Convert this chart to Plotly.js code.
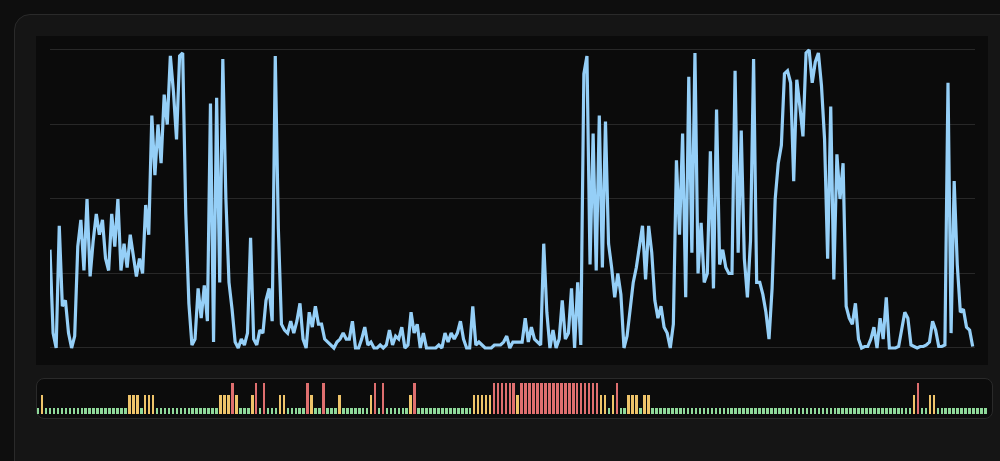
<!DOCTYPE html>
<html><head><meta charset="utf-8">
<script src="https://cdn.plot.ly/plotly-3.0.1.min.js"></script>
<style>
html,body{margin:0;padding:0;width:1000px;height:461px;overflow:hidden;background:#0e0e0e;}
.card{position:absolute;left:14px;top:14px;width:1010px;height:480px;background:#151515;border:1px solid #2a2a2a;border-radius:16px;box-sizing:border-box;}
.panel{position:absolute;left:36px;top:36px;width:952px;height:329px;background:#0b0b0b;}
.strip{position:absolute;left:36px;top:378px;width:957px;height:41px;background:#0c0c0c;border:1px solid #2a2a2a;border-radius:8px;box-sizing:border-box;}
#chart{position:absolute;left:0;top:0;width:1000px;height:461px;}
</style></head>
<body>
<div class="card"></div>
<div class="panel"></div>
<div class="strip"></div>
<div id="chart"></div>
<script>
// usage series (percent), one value per sample
const usage = [
  33,5,0,41,14,16,5,0,4,34,
  43,26,50,24,36,45,38,43,30,26,
  45,34,50,26,35,27,38,31,24,30,
  25,48,38,78,58,75,62,85,75,98,
  86,70,98,99,45,15,1,3,20,10,
  21,9,82,2,84,22,97,50,22,13,
  2,0,3,1,5,37,3,1,6,5,
  16,20,9,98,40,8,6,5,9,5,
  9,15,3,0,12,7,14,8,8,3,
  2,1,0,2,3,5,3,3,9,0,
  0,3,7,1,2,0,0,1,0,1,
  6,1,4,3,7,0,1,12,5,8,
  0,5,0,0,0,0,1,0,5,2,
  5,3,5,9,3,0,0,14,1,2,
  1,0,0,0,1,1,1,2,4,0,
  2,2,2,2,10,2,7,3,2,1,
  35,12,0,6,0,3,16,3,5,20,
  0,22,1,92,98,28,72,26,78,27,
  76,35,27,17,25,18,0,4,13,22,
  27,34,41,23,41,32,16,10,14,7,
  5,0,8,63,38,72,17,91,32,99,
  25,42,22,25,66,20,80,28,33,27,
  25,25,93,32,73,30,17,36,97,22,
  22,18,12,3,20,50,62,68,92,93,
  89,56,90,81,71,99,100,89,96,99,
  88,70,30,81,23,65,50,62,14,10,
  8,15,3,0,0.5,0.5,3,7,0,10,
  3,17,0,0,0,0.5,7,12,10,1,
  0.5,0,0.5,0.5,1,2,9,6,0.5,0.5,
  1,89,5,56,28,12,13,7,6,0.5
];

// status per interval: 0 = ok, 1 = warning, 2 = critical
const status = [
  0,1,0,0,0,0,0,0,0,0, 0,0,0,0,0,0,0,0,0,0,
  0,0,0,1,1,1,0,1,1,1, 0,0,0,0,0,0,0,0,0,0,
  0,0,0,0,0,0,1,1,1,2, 1,0,0,0,1,2,0,2,0,0,
  0,1,1,0,0,0,0,0,2,1, 0,0,2,0,0,0,1,0,0,0,
  0,0,0,0,1,2,0,2,0,0, 0,0,0,0,1,2,0,0,0,0,
  0,0,0,0,0,0,0,0,0,0, 1,1,1,1,1,2,2,2,2,2,
  2,1,2,2,2,2,2,2,2,2, 2,2,2,2,2,2,2,2,2,2,
  2,2,1,1,0,1,2,0,0,1, 1,1,0,1,1,0,0,0,0,0,
  0,0,0,0,0,0,0,0,0,0, 0,0,0,0,0,0,0,0,0,0,
  0,0,0,0,0,0,0,0,0,0, 0,0,0,0,0,0,0,0,0,0,
  0,0,0,0,0,0,0,0,0,0, 0,0,0,0,0,0,0,0,0,0,
  0,1,2,0,0,1,1,0,0,0, 0,0,0,0,0,0,0,0,0,0
];
const levelHeight = [1, 3, 5];
const levelColor = ['#8fd99a', '#efc46a', '#df6f6f'];
const gridValues = [0, 25, 50, 75, 100];

const lineTrace = {
  type: 'scatter', mode: 'lines',
  y: usage,
  line: {color: '#95cff7', width: 3.2},
  hoverinfo: 'skip',
  xaxis: 'x', yaxis: 'y'
};
const barTrace = {
  type: 'bar',
  y: status.map(s => levelHeight[s]),
  marker: {color: status.map(s => levelColor[s]), line: {width: 0}},
  width: 0.65,
  hoverinfo: 'skip',
  xaxis: 'x2', yaxis: 'y2'
};

const hidden = {showgrid: false, zeroline: false, showticklabels: false, showline: false, ticks: '', fixedrange: true};
const layout = {
  width: 1000, height: 461,
  margin: {l: 0, r: 0, t: 0, b: 0, pad: 0},
  paper_bgcolor: 'rgba(0,0,0,0)', plot_bgcolor: 'rgba(0,0,0,0)',
  showlegend: false,
  bargap: 0,
  xaxis: Object.assign({}, hidden, {domain: [0.05, 0.975], range: [0, 299.75]}),
  yaxis: Object.assign({}, hidden, {domain: [0.2128, 0.9045], range: [-5, 102], showgrid: true, tickvals: gridValues, gridcolor: '#282828', gridwidth: 1}),
  xaxis2: Object.assign({}, hidden, {domain: [0.036, 0.99], range: [-0.555, 240.16], anchor: 'y2'}),
  yaxis2: Object.assign({}, hidden, {domain: [0.1013, 0.1696], range: [0, 5], anchor: 'x2'})
};
Plotly.newPlot('chart', [lineTrace, barTrace], layout, {staticPlot: true, displayModeBar: false});
</script>
</body></html>
